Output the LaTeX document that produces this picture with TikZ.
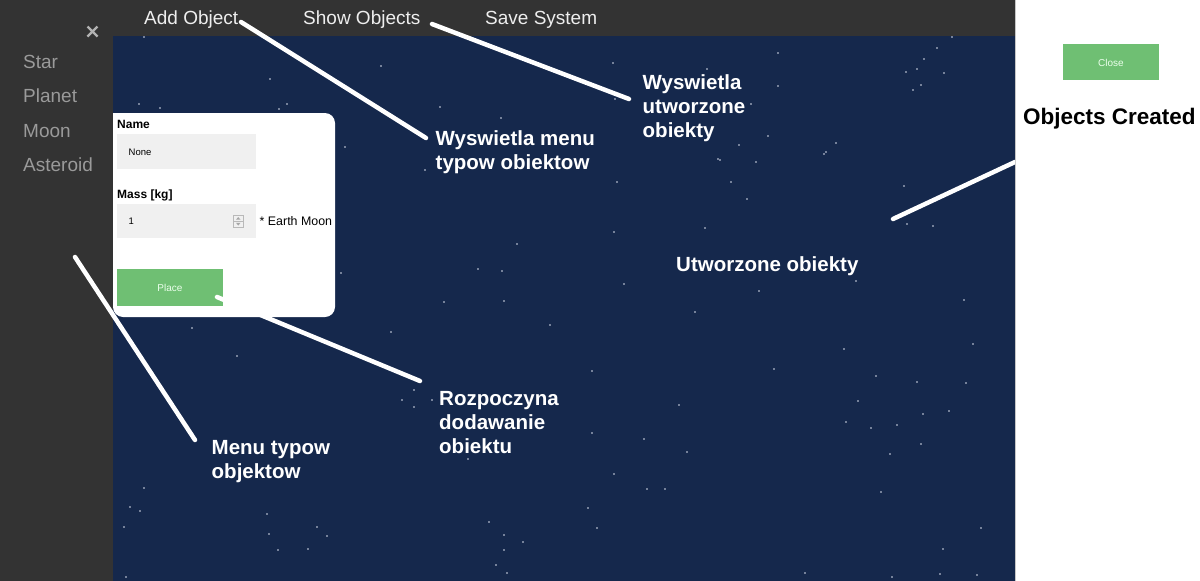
\documentclass[tikz,border=0pt]{standalone}
\usepackage{fontspec}
\setmainfont{Liberation Sans}
\definecolor{space}{HTML}{15284C}
\definecolor{side}{HTML}{333333}
\definecolor{btn}{HTML}{6FBF73}
\definecolor{field}{HTML}{F0F0F0}
\definecolor{sidetext}{HTML}{9A9A9A}
\definecolor{menutext}{HTML}{EEEEEE}
\definecolor{starcol}{HTML}{D8DEEA}
\tikzset{
  menuitem/.style={anchor=base west, inner sep=0, text=menutext, font=\fontsize{19}{22}\selectfont},
  sideitem/.style={anchor=base west, inner sep=0, text=sidetext, font=\fontsize{19}{22}\selectfont},
  note/.style={anchor=north west, inner sep=0, align=left, text=white, font=\fontsize{20.5}{24}\selectfont\bfseries},
  flabel/.style={anchor=base west, inner sep=0, text=black, font=\fontsize{12}{14}\selectfont\bfseries},
  fvalue/.style={anchor=base west, inner sep=0, text=black, font=\fontsize{9.5}{11}\selectfont},
  btntext/.style={inner sep=0, text=white!92!green, font=\fontsize{10}{12}\selectfont},
  leader/.style={draw=white, line width=4.5pt, line cap=round},
}
\begin{document}
\begin{tikzpicture}[x=1pt,y=-1pt]
\useasboundingbox (0,0) rectangle (1200,581);
% backgrounds
\fill[white] (0,0) rectangle (1200,581);
\fill[space] (113,36) rectangle (1015,581);
\fill[side] (0,0) rectangle (113,581);
\fill[side] (0,0) rectangle (1015,36);
\draw[gray!45, line width=1pt] (1015.5,0) -- (1015.5,581);
% stars
\foreach \sx/\sy in {144/37,270/79,381/66,139/104,160/108,279/109,287/104,345/147,341/273,192/328,
778/53,613/63,707/69,778/86,751/104,440/107,501/118,768/136,739/145,718/159,756/162,425/170,617/182,731/182,747/199,615/99,
720/160,826/152,904/186,614/232,705/228,907/224,933/226,856/281,624/284,759/291,695/312,964/300,973/344,844/349,774/369,
517/244,478/269,502/271,444/302,504/301,550/325,391/332,237/356,592/371,414/390,402/400,414/407,432/400,468/459,592/433,
144/488,130/507,140/511,124/527,267/514,269/534,317/527,327/536,278/550,308/549,489/522,504/535,523/542,504/550,496/565,507/573,588/508,597/528,126/577,
876/376,917/382,966/383,679/405,858/401,846/422,871/428,897/425,923/414,949/411,921/444,890/454,644/439,687/452,614/474,647/489,665/489,881/492,981/528,943/549,805/573,892/577,940/574,977/575,
952/37,937/48,924/59,906/72,917/69,944/73,921/85,913/90,836/143,824/154}
  {\fill[starcol] (\sx,\sy) circle (0.9);}
% top menu
\node[menuitem] (addobj) at (144,24) {Add Object};
\node[menuitem] (showobj) at (303,24) {Show Objects};
\node[menuitem] (savesys) at (485,24) {Save System};
% side menu
\draw[gray!60, line width=2.2pt] (87.5,26.5) -- (97.5,36.5) (97.5,26.5) -- (87.5,36.5);
\node[sideitem] (star) at (23,68) {Star};
\node[sideitem] (planet) at (23,102.5) {Planet};
\node[sideitem] (moon) at (23,137) {Moon};
\node[sideitem] (asteroid) at (23,171) {Asteroid};
% add-object panel
\fill[white, rounded corners=10] (113,113) rectangle (335,317);
\fill[white] (113,113) rectangle (125,125);
\node[flabel] (name) at (117,128) {Name};
\fill[field] (117,134) rectangle (256,169);
\node[fvalue] (nameval) at (128.5,155) {None};
\node[flabel] (mass) at (117,198) {Mass [kg]};
\fill[field] (117,204) rectangle (256,238);
\node[fvalue] (massval) at (128.5,224.5) {1};
\draw[gray!55, fill=gray!12, line width=0.5pt] (233,215.5) rectangle (243.5,227);
\draw[gray!55, line width=0.5pt] (233,221.2) -- (243.5,221.2);
\fill[gray!70] (236,219.7) -- (240.5,219.7) -- (238.25,217) -- cycle;
\fill[gray!70] (236,222.8) -- (240.5,222.8) -- (238.25,225.5) -- cycle;
\node[anchor=base west, inner sep=0, font=\fontsize{12.4}{14}\selectfont] (earthmoon) at (259.5,225) {* Earth Moon};
\fill[btn] (117,269) rectangle (223,306);
\node[btntext] (place) at (170,288) {Place};
% right panel
\fill[btn] (1063,44) rectangle (1159,80);
\node[btntext] (close) at (1111,63) {Close};
\node[anchor=base west, inner sep=0, font=\fontsize{22.5}{26}\selectfont\bfseries] (created) at (1023,124) {Objects Created};
% annotations
\node[note] (n1) at (435.5,130.5) {Wyswietla menu\\typow obiektow};
\node[note] (n2) at (642.5,74.5) {Wyswietla\\utworzone\\obiekty};
\node[note] (n3) at (676,256.5) {Utworzone obiekty};
\node[note] (n4) at (439,391.5) {Rozpoczyna\\dodawanie\\obiektu};
\node[note] (n5) at (211.5,440.5) {Menu typow\\objektow};
% leader lines
\coordinate (l1a) at (241,22);  \coordinate (l1b) at (426,138);
\coordinate (l2a) at (432,24);  \coordinate (l2b) at (629,99);
\coordinate (l3a) at (1015,162); \coordinate (l3b) at (893,219);
\coordinate (l4a) at (75,257);  \coordinate (l4b) at (195,440);
\coordinate (l5a) at (217,297); \coordinate (l5b) at (420,381);
\draw[leader] (l1a) -- (l1b);
\draw[leader] (l2a) -- (l2b);
\draw[leader] (l4a) -- (l4b);
\draw[leader] (l5a) -- (l5b);
\begin{scope}
\clip (0,0) rectangle (1015,581);
\draw[leader] (l3a) -- (l3b);
\end{scope}
\end{tikzpicture}
\end{document}
